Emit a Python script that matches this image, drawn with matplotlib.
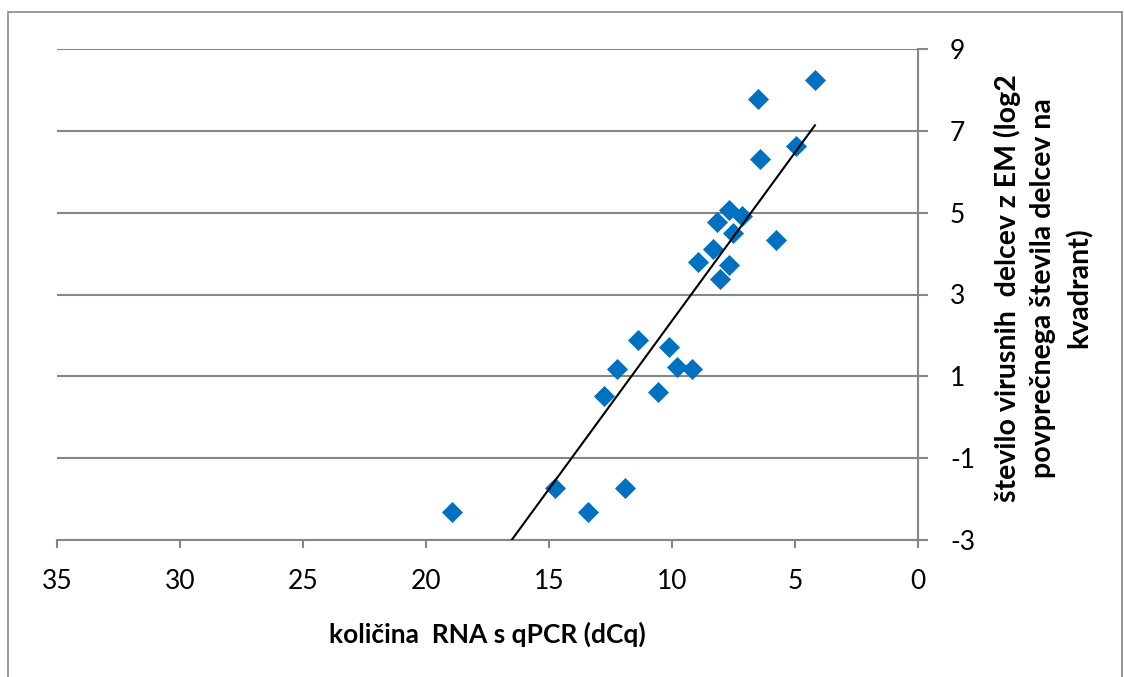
import numpy as np
import matplotlib.pyplot as plt
from matplotlib.patches import Rectangle

plt.rcParams['font.family'] = ['Lato', 'DejaVu Sans']
plt.rcParams['axes.unicode_minus'] = False

# Data
dcq = [18.94, 14.76, 13.41, 11.91, 12.76, 12.24, 11.38, 10.57, 10.12, 9.80,
       9.19, 8.94, 8.33, 8.05, 7.68, 8.17, 7.68, 7.52, 7.15, 5.77,
       6.42, 6.50, 4.96, 4.19]
em_log2 = [-2.32, -1.73, -2.32, -1.73, 0.52, 1.18, 1.89, 0.61, 1.71, 1.22,
           1.18, 3.79, 4.11, 3.38, 3.72, 4.77, 5.06, 4.50, 4.92, 4.33,
           6.31, 7.78, 6.63, 8.24]
xticks = [35, 30, 25, 20, 15, 10, 5, 0]
yticks = [-3, -1, 1, 3, 5, 7, 9]

fig = plt.figure(figsize=(11.24, 6.77), dpi=100)
ax = fig.add_axes([57/1124, 1 - 540/677, (918 - 57)/1124, (540 - 49)/677])

grey = '#868686'
ax.scatter(dcq, em_log2, marker='D', s=115, color='#0070C0', zorder=3, linewidths=0)

# linear trendline over the data range
k, n = np.polyfit(dcq, em_log2, 1)
xs = np.array([max(dcq), min(dcq)])
ax.plot(xs, k * xs + n, color='black', lw=1.5, zorder=4)

ax.set_xlim(35, 0)
ax.set_ylim(-3, 9)
ax.set_xticks(xticks)
ax.set_yticks(yticks)
ax.yaxis.tick_right()
ax.yaxis.set_label_position('right')
ax.grid(axis='y', color=grey, lw=1.5)
ax.set_axisbelow(True)

for s in ['top', 'left']:
    ax.spines[s].set_visible(False)
for s in ['bottom', 'right']:
    ax.spines[s].set_color(grey)
    ax.spines[s].set_linewidth(1.5)
ax.tick_params(axis='both', colors=grey, labelcolor='black', labelsize=19, width=1.5)
ax.tick_params(axis='x', length=6, pad=15)
ax.tick_params(axis='y', length=7, pad=16)

ax.set_xlabel('količina  RNA s qPCR (dCq)', fontsize=19, fontweight='bold', labelpad=20)
ax.set_ylabel('število virusnih  delcev z EM (log2\npovprečnega števila delcev na\nkvadrant)',
              fontsize=20.5, fontweight='bold', rotation=90,
              linespacing=1.45, ha='center', va='center', multialignment='center')
ax.yaxis.set_label_coords((1043 - 57) / 861, (540 - 288) / 491)

fig.add_artist(Rectangle((8/1124, -0.01), (1122 - 8)/1124, 1.01 - 12/677,
                         transform=fig.transFigure, fill=False, edgecolor=grey, lw=1.2))

fig.savefig('out.png', dpi=100)
